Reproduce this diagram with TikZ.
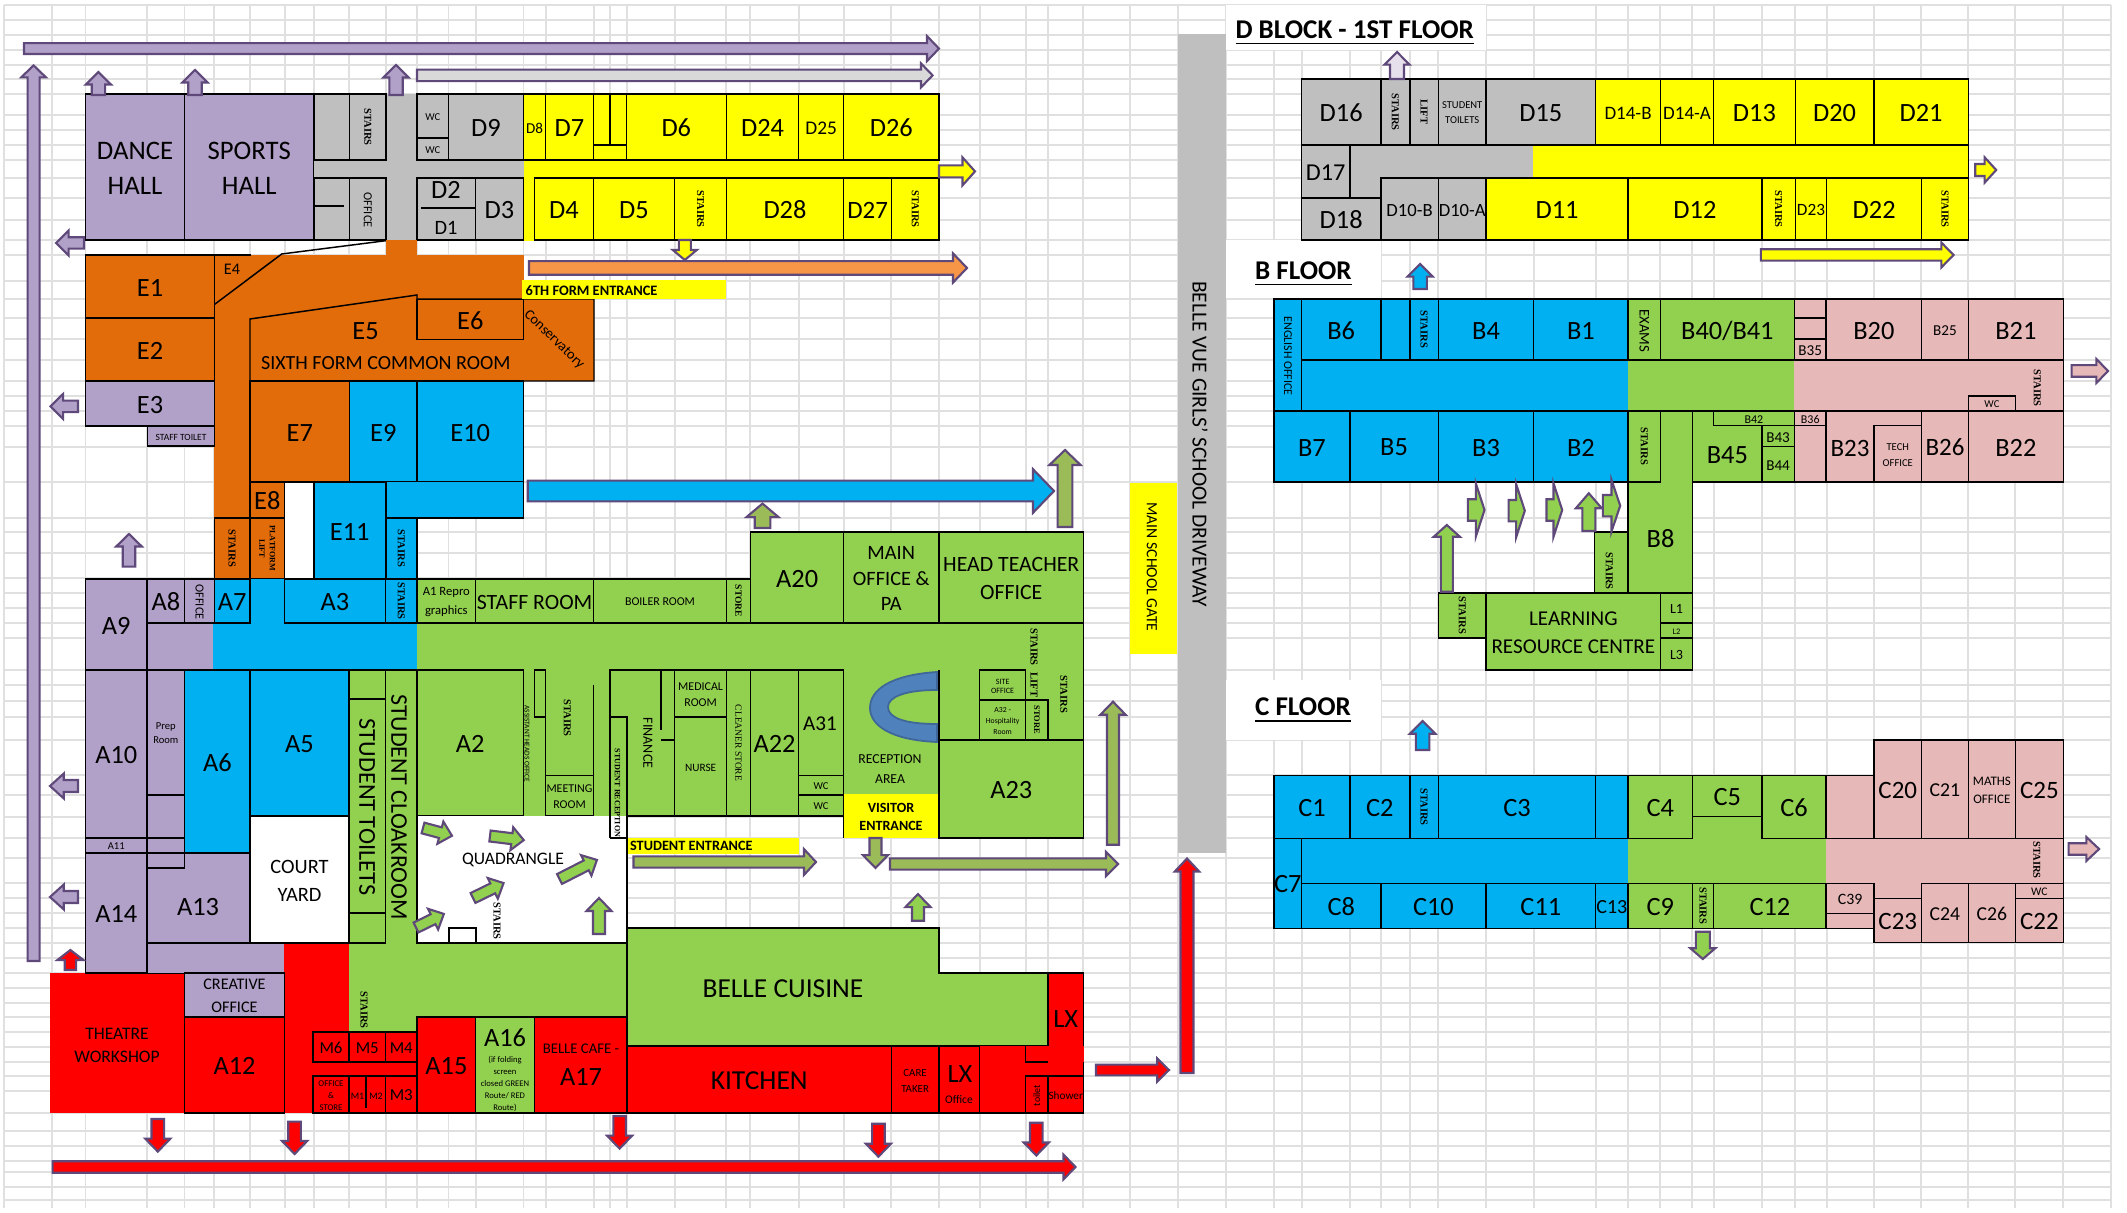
\documentclass[tikz,border=0pt]{standalone}
\usepackage{fontspec}
\setmainfont{Carlito}
\newfontfamily\stairfont{Liberation Serif}
\usepackage{tikz}

\definecolor{pur}{HTML}{B1A0C7}
\definecolor{purline}{HTML}{5F497A}
\definecolor{gry}{HTML}{BFBFBF}
\definecolor{ltgry}{HTML}{D9D9D9}
\definecolor{sheet}{HTML}{E0E0E0}
\definecolor{yel}{HTML}{FFFF00}
\definecolor{org}{HTML}{E26B0A}
\definecolor{ltorg}{HTML}{F79646}
\definecolor{blu}{HTML}{00B0F0}
\definecolor{grn}{HTML}{92D050}
\definecolor{olv}{HTML}{9BBB59}
\definecolor{pnk}{HTML}{E6B8B7}
\definecolor{rd}{HTML}{FF0000}
\definecolor{desk}{HTML}{4F81BD}
\definecolor{pale}{HTML}{E6E0EC}

\tikzset{
	gridline/.style={draw=sheet, line width=0.35pt},
	room/.style={draw=black, line width=0.42pt},
	wall/.style={draw=black, line width=0.42pt},
	arw/.style={draw=purline, line width=0.6pt, line join=miter},
	fs/.style n args={2}{inner sep=0pt, align=center, text=black, yshift=-0.3pt, font=\fontsize{#1}{#2}\selectfont},
	big/.style={fs={7.5}{10}},
	stairs/.style={inner sep=0pt, rotate=-90, font=\stairfont\bfseries\fontsize{3}{3.6}\selectfont},
	title/.style={inner sep=0pt, anchor=west, font=\bfseries\fontsize{7.7}{9}\selectfont},
}

% [label style]{colour}{corner}{corner}{label}
\newcommand{\room}[5][big]{\draw[room,fill=#2] (#3) rectangle (#4) node[midway,#1] {#5};}
% {colour}{x}{y}{angle}{length}{half shaft}{half head}{head length}
\newcommand{\barrow}[8]{\draw[arw,fill=#1,shift={(#2,#3)},rotate=#4] (0,-#6) -- ({#5-#8},-#6) -- ({#5-#8},-#7) -- (#5,0) -- ({#5-#8},#7) -- ({#5-#8},#6) -- (0,#6) -- cycle;}

\begin{document}
\begin{tikzpicture}[x=0.01cm,y=-0.01cm]
\useasboundingbox (0,0) rectangle (2127,1213);
\fill[white] (0,0) rectangle (2127,1213);

% sheet lines
\foreach \gx in {4,52,85.5,147,184.5,214,250,285,314,349,386,417,448.5,476,523.5,546,594,610,627,675,726,750,799,844,891,939,980,1026,1048,1083,1130,1178,1226,1274,1302,1350,1381,1410,1438,1486,1534,1596,1628,1660,1692,1714,1762,1795,1827,1874,1921,1968,2015,2063,2111}
	\draw[gridline] (\gx,5) -- (\gx,1208);
\foreach \gy in {5,20,35,50,65,79,94,115,130,145,160,178,198,220,240,255,281,299,318,339,360,381,396,411,426,447,482,518,532,553,578,593,608,623,638,670,685,701,717,740,775,795,817,838,858,883,898,913,928,943,958,973,988,1003,1017,1032,1047,1062,1076,1091,1113,1131,1146,1161,1172,1187,1200}
	\draw[gridline] (4,\gy) -- (2111,\gy);
\fill[white] (1226,5) rectangle (1486,50);
\fill[white] (1226,240) rectangle (1381,298);
\fill[white] (1226,680) rectangle (1381,740);
\fill[white] (285,482) rectangle (314,579);

% driveway and gate
\fill[gry] (1178,34) rectangle (1226,853);
\node[fs={6.1}{8},rotate=-90] (drive) at (1200,443) {BELLE VUE GIRLS' SCHOOL DRIVEWAY};
\fill[yel] (1130,483) rectangle (1177,654);
\node[fs={4.45}{6},rotate=-90] (gate) at (1152,566) {MAIN SCHOOL GATE};

% D block ground floor
\room[fs={7.6}{10}]{pur}{85.5,94}{184.5,240}{DANCE\\HALL}
\room[fs={7.6}{10}]{pur}{184.5,94}{314,240}{SPORTS\\HALL}
\fill[gry] (314,94) rectangle (523.5,240);
\fill[yel] (523.5,160) rectangle (939,178);
\fill[yel] (523.5,178) rectangle (534.6,241);
\draw[room,fill=gry] (314,94) rectangle (349.5,160);
\room[stairs]{gry}{349.5,94}{386,160}{STAIRS}
\room[fs={3}{4}]{gry}{417,94}{448.5,138}{WC}
\room[fs={3}{4}]{gry}{417,138}{448.5,160}{WC}
\room{gry}{448.5,94}{523.5,160}{D9}
\draw[room,fill=gry] (314,178) rectangle (349.5,240);
\draw[wall] (314,206) -- (344,206);
\room[fs={3.5}{4},rotate=-90]{gry}{349.5,178}{386,240}{OFFICE}
\draw[room,fill=gry] (417,178) rectangle (475.3,240);
\draw[wall] (421,208) -- (475.3,208);
\node[big] (dtwo) at (446,189) {D2};
\node[fs={5.8}{7}] (done) at (446,227) {D1};
\room{gry}{475.3,178}{523.5,240}{D3}
\room[fs={4.3}{5}]{yel}{523.5,94}{545.7,160}{D8}
\room{yel}{545.7,94}{593.3,160}{D7}
\draw[room,fill=yel] (593.3,94) rectangle (626.3,160);
\draw[wall] (610,94) -- (610,145) (593.3,145) -- (626.3,145);
\room{yel}{626.3,94}{726.3,160}{D6}
\room{yel}{726.3,94}{798.7,160}{D24}
\room[fs={5.5}{7}]{yel}{798.7,94}{843.7,160}{D25}
\room{yel}{843.7,94}{939,160}{D26}
\room{yel}{534.6,178}{593.3,240}{D4}
\room{yel}{593.3,178}{674.6,240}{D5}
\room[stairs]{yel}{674.6,178}{726.3,240}{STAIRS}
\room{yel}{726.3,178}{843.7,240}{D28}
\room[fs={7.1}{10}]{yel}{843.7,178}{891.5,240}{D27}
\room[stairs]{yel}{891.5,178}{939,240}{STAIRS}

% E block
\fill[org] (214.3,255) rectangle (523.5,299);
\fill[org] (385.8,240) rectangle (417,255);
\fill[org] (214.3,299) rectangle (250,518);
\fill[org] (250,295) rectangle (417,319);
\room{org}{85.7,255}{214.3,318}{E1}
\room{org}{85.7,318}{214.3,381}{E2}
\room{pur}{85.7,381}{214.3,426}{E3}
\room[fs={2.7}{3}]{pur}{147.7,426}{214.3,446}{STAFF TOILET}
\draw[wall] (214.3,255) -- (250.6,255);
\draw[wall] (214.3,304.6) -- (281.7,254) -- (385.8,240.7);
\node[fs={4.6}{6}] (efour) at (232,268.6) {E4};
\draw[wall,fill=org] (250,381) -- (250,319) -- (417,295) -- (417,299) -- (594,299) -- (594,381) -- cycle;
\room{org}{417,299.5}{523.5,339.5}{E6}
\node[big] (efive) at (365.5,330) {E5};
\node[fs={5.7}{7}] (sixth) at (385.8,362) {SIXTH FORM COMMON ROOM};
\node[fs={4.1}{5},rotate=-44] (conserv) at (554,338.6) {Conservatory};
\room{org}{250,381}{349.5,482}{E7}
\room{blu}{349.5,381}{417,482}{E9}
\room{blu}{417,381}{523.5,482}{E10}
\room{org}{250,482}{284.7,518}{E8}
\fill[blu] (385.8,482) rectangle (523.5,518);
\draw[wall] (385.8,518) -- (523.5,518) -- (523.5,482);
\room{blu}{313.8,482}{385.8,579}{E11}
\room[stairs]{blu}{385.8,518}{417,579}{STAIRS}
\room[stairs]{org}{214.3,518}{250,579}{STAIRS}
\room[stairs,font=\stairfont\bfseries\fontsize{2.3}{3}\selectfont,align=center]{org}{250,518}{284.7,579}{PLATFORM\\LIFT}
\fill[yel] (522,280) rectangle (726,299.3);
\node[inner sep=0pt,font=\bfseries\fontsize{4.1}{5}\selectfont,anchor=west] (sixthdoor) at (525,291) {6TH FORM ENTRANCE};

% A block corridors
\fill[pur] (147,623) rectangle (214,670);
\fill[blu] (213,623) rectangle (417,670);
\fill[blu] (250,579) rectangle (284.3,623);
\fill[grn] (417,623) rectangle (1083.7,816);
\fill[grn] (349,943) rectangle (627,1017);
\fill[grn] (349,1017) rectangle (417,1032);
\fill[rd] (284.3,943) rectangle (349,1113);
\fill[rd] (313,1062) rectangle (417,1076);
\fill[rd] (50,973) rectangle (184.7,1113);
\draw[wall] (85.5,973) -- (184.7,973);
\node[fs={5}{6.5}] (theatre) at (117,1044) {THEATRE\\WORKSHOP};

\room{pur}{85.5,579}{147,670}{A9}
\room{pur}{147,579}{184.7,623}{A8}
\room[fs={3.5}{4},rotate=-90]{pur}{184.7,579}{214.3,623}{OFFICE}
\room{blu}{214.3,579}{250,623}{A7}
\room{blu}{284.3,579}{385.5,623}{A3}
\room[stairs]{blu}{385.5,579}{417,623}{STAIRS}
\room[fs={3.6}{5.3}]{grn}{417,579}{475.7,623}{A1 Repro\\graphics}
\room[fs={6.2}{8}]{grn}{475.7,579}{593.5,623}{STAFF ROOM}
\room[fs={3.4}{4}]{grn}{593.5,579}{726.5,623}{BOILER ROOM}
\room[stairs,font=\stairfont\bfseries\fontsize{2.7}{3}\selectfont]{grn}{726.5,579}{750.6,623}{STORE}
\room{grn}{750.6,532}{843.7,623}{A20}
\room[fs={5.8}{7.3}]{grn}{843.7,532}{938.8,623}{MAIN\\OFFICE \&\\PA}
\room[fs={6.2}{7.9}]{grn}{938.8,532}{1083.7,623}{HEAD TEACHER\\OFFICE}

\room{pur}{85.5,670}{147,838}{A10}
\room[fs={3}{4}]{pur}{147,670}{184.7,795}{Prep\\Room}
\draw[room,fill=pur] (147,795) rectangle (184.7,838);
\room[fs={3}{3.5}]{pur}{85.5,838}{147,853}{A11}
\draw[room,fill=pur] (147,838) rectangle (184.7,853);
\room{pur}{85.5,853}{147,973}{A14}
\fill[pur] (147,853) rectangle (250,973);
\fill[pur] (250,943) rectangle (284.3,973);
\draw[wall] (147,853) rectangle (184.7,868);
\draw[wall] (147,868) -- (147,973) (184.7,853) -- (250,853) -- (250,943) -- (147,943);
\node[big] (athirteen) at (198,906) {A13};
\room{blu}{184.7,670}{250,853}{A6}
\room{blu}{250,670}{349,816}{A5}
\room[fs={5.8}{7.9}]{white}{250,816}{349,943}{COURT\\YARD}
\draw[room,fill=grn] (349,670) rectangle (385.5,699);
\room[fs={6.9}{8},rotate=-90]{grn}{349,699}{385.5,913}{STUDENT TOILETS}
\draw[room,fill=grn] (349,913) rectangle (385.5,943);
\fill[grn] (385.5,670) rectangle (417,943);
\draw[wall] (385.5,670) -- (417,670);
\node[fs={6.8}{8},rotate=-90] (cloak) at (399,806) {STUDENT CLOAKROOM};
\room{grn}{417,670}{523.5,816}{A2}
\draw[wall] (523.5,670) -- (523.5,816) (545.7,717) -- (545.7,816) (534.6,670) rectangle (545.7,717);
\node[fs={2.1}{3},rotate=-90] (asst) at (527,743) {ASSISTANT HEADS OFFICE};
\draw[wall] (593.5,684.6) -- (593.5,775.6);
\node[stairs] (astairs) at (567.3,718) {STAIRS};
\room[fs={3.4}{4.6}]{grn}{545.7,775.6}{593.3,816}{MEETING\\ROOM}

% quadrangle
\fill[white] (417,816) rectangle (627,943);
\draw[wall] (417,816) -- (417,943) -- (627,943);
\draw[room,fill=white] (449,928) rectangle (476,943);
\node[fs={5}{6}] (quad) at (513,859) {QUADRANGLE};
\node[stairs] (qstairs) at (497,921) {STAIRS};
\barrow{grn}{423}{828}{-15}{30}{5.5}{11.5}{12}
\barrow{grn}{490}{836}{-7}{34}{5.5}{11.5}{12}
\barrow{grn}{559.5}{879}{27}{42}{5.5}{11.5}{12}
\barrow{grn}{473}{898}{26}{34}{5.5}{11.5}{12}
\barrow{grn}{416}{927.5}{26}{31}{5.5}{11.5}{12}
\barrow{grn}{599}{934}{90}{36}{6}{12.5}{13}

% offices along the middle
\draw[wall] (610,838) -- (610,670) -- (843.7,670) (627,838) -- (627,717) -- (610,717) (610,838) -- (627,838);
\draw[wall] (627,816) -- (843.7,816) (661,670) -- (661,730) (661,740) -- (674.7,740);
\node[stairs,font=\stairfont\bfseries\fontsize{2.3}{3}\selectfont] (srecep) at (617.6,793) {STUDENT RECEPTION};
\node[fs={4}{5},rotate=-90] (finance) at (648,742) {FINANCE};
\room[fs={3.4}{4.6}]{grn}{674.7,670}{726.5,717}{MEDICAL\\ROOM}
\room[fs={3.2}{4}]{grn}{674.7,717}{726.5,816}{NURSE}
\room[rotate=-90,inner sep=0pt,font=\stairfont\fontsize{2.7}{3}\selectfont]{grn}{726.5,670}{750.6,816}{CLEANER STORE}
\room{grn}{750.6,670}{798.4,816}{A22}
\draw[room,fill=grn] (798.4,670) rectangle (843.7,775.6);
\node[fs={6}{7}] (athirtyone) at (820,723) {A31};
\room[fs={3}{4}]{grn}{798.4,775.6}{843.7,795}{WC}
\room[fs={3}{4}]{grn}{798.4,795}{843.7,816}{WC}
\draw[wall] (938.8,670) -- (938.8,740);
\draw[draw=desk!80!black,line width=0.5pt,fill=desk] (937,672) .. controls (890,675) and (870,690) .. (870,708) .. controls (870,725) and (890,740) .. (937,742) -- (937,724) .. controls (905,724) and (888,718) .. (888,707) .. controls (888,697) and (905,690) .. (937,690) -- cycle;
\node[fs={3.9}{5.8}] (recep) at (890,768) {RECEPTION\\AREA};
\fill[yel] (843.7,794) rectangle (938.8,838);
\node[font=\bfseries\fontsize{4}{5.1}\selectfont,inner sep=0pt,align=center] (visitor) at (891,817) {VISITOR\\ENTRANCE};
\draw[wall] (843.7,816) -- (843.7,838) (1083.7,623) -- (1083.7,740);
\room[fs={2.3}{2.5}]{grn}{979.6,670}{1025.7,700}{SITE\\OFFICE}
\room[fs={2.2}{3.2}]{grn}{979.6,700}{1025.7,740}{A32 -\\Hospitality\\Room}
\room[stairs,font=\stairfont\bfseries\fontsize{2.4}{3}\selectfont]{grn}{1025.7,700}{1047.8,740}{STORE}
\node[stairs] (lstairs) at (1034,647) {STAIRS};
\node[stairs] (lift) at (1034,685) {LIFT};
\node[stairs] (rstairs) at (1063.7,694.5) {STAIRS};
\room{grn}{938.8,740}{1083.7,838}{A23}
\fill[yel] (627,838) rectangle (798.8,853.7);
\node[font=\bfseries\fontsize{4.05}{5}\selectfont,inner sep=0pt,anchor=west] (sdoor) at (629.4,846) {STUDENT ENTRANCE};

% bottom row
\room[fs={4.6}{6.4}]{pur}{184.7,973}{284.3,1017}{CREATIVE\\OFFICE}
\room{rd}{184.7,1017}{284.3,1113}{A12}
\room[fs={4.8}{6}]{rd}{313,1032}{349,1062}{M6}
\room[fs={4.8}{6}]{rd}{349,1032}{385.5,1062}{M5}
\room[fs={4.8}{6}]{rd}{385.5,1032}{417,1062}{M4}
\room[fs={2.5}{3.5}]{rd}{313,1076}{349,1113}{OFFICE\\\&\\STORE}
\draw[room,fill=rd] (349,1076) rectangle (385.5,1113);
\draw[wall] (366,1076) -- (366,1108);
\node[fs={2.8}{3}] (mone) at (357.5,1095) {M1};
\node[fs={2.8}{3}] (mtwo) at (376,1095) {M2};
\room[fs={4.8}{6}]{rd}{385.5,1076}{417,1113}{M3}
\room{rd}{417,1017}{475.7,1113}{A15}
\draw[room,fill=grn] (475.7,1017) rectangle (534.6,1113);
\node[big] (asixteen) at (505,1037) {A16};
\node[fs={2.45}{3.4}] (folding) at (505,1083) {(if folding\\screen\\closed GREEN\\Route/ RED\\Route)};
\draw[room,fill=rd] (534.6,1017) rectangle (627,1113);
\node[fs={4.2}{5}] (cafe) at (581,1048) {BELLE CAFE -};
\node[big] (aseventeen) at (581,1076) {A17};
\draw[wall] (417,1017) -- (627,1017);
\draw[wall,fill=grn] (627,928) -- (938.8,928) -- (938.8,973) -- (1047.8,973) -- (1047.8,1046) -- (627,1046) -- cycle;
\node[fs={7.8}{9}] (cuisine) at (783,988) {BELLE CUISINE};
\draw[wall] (627,928) -- (627,838);
\room{rd}{1047.8,973}{1083.7,1062}{LX}
\room[fs={7.8}{9}]{rd}{627,1046}{891.4,1113}{KITCHEN}
\room[fs={3.1}{4.6}]{rd}{891.4,1046}{938.8,1113}{CARE\\TAKER}
\draw[room,fill=rd] (938.8,1046) rectangle (979.6,1113);
\node[big] (lxoff) at (960,1073) {LX};
\node[fs={3.3}{4}] (lxoffice) at (959,1098) {Office};
\fill[rd] (979.6,1046) rectangle (1083.7,1113);
\draw[wall] (979.6,1113) -- (1083.7,1113) -- (1083.7,1062) (1025.7,1046) -- (1025.7,1062) -- (1047.8,1062);
\room[fs={2.8}{3},rotate=90]{rd}{1025.7,1076}{1047.8,1113}{toilet}
\room[fs={3.2}{4}]{rd}{1047.8,1076}{1083.7,1113}{Shower}
\node[stairs] (bstairs) at (364,1010) {STAIRS};

% D block first floor
\node[title] (dhead) at (1234.8,33) {\underline{D BLOCK - 1ST FLOOR}};
\fill[gry] (1301.6,145) rectangle (1532.7,198);
\fill[yel] (1532.7,145) rectangle (1968.3,178);
\room{gry}{1301.6,79}{1380.8,145}{D16}
\room[stairs]{gry}{1380.8,79}{1409.8,145}{STAIRS}
\room[stairs]{gry}{1409.8,79}{1438.3,145}{LIFT}
\room[fs={3}{4.3}]{gry}{1438.3,79}{1486.1,145}{STUDENT\\TOILETS}
\room{gry}{1486.1,79}{1595.6,145}{D15}
\room[fs={5.4}{7}]{yel}{1595.6,79}{1660.5,145}{D14-B}
\room[fs={5.4}{7}]{yel}{1660.5,79}{1713.6,145}{D14-A}
\room{yel}{1713.6,79}{1795.3,145}{D13}
\room{yel}{1795.3,79}{1873.9,145}{D20}
\room{yel}{1873.9,79}{1968.3,145}{D21}
\room[fs={6.9}{10}]{gry}{1301.6,145}{1349.8,198}{D17}
\room{gry}{1301.6,198}{1380.8,240}{D18}
\room[fs={5.3}{7}]{gry}{1380.8,178}{1438.3,240}{D10-B}
\room[fs={5.3}{7}]{gry}{1438.3,178}{1486.1,240}{D10-A}
\room{yel}{1486.1,178}{1628.1,240}{D11}
\room{yel}{1628.1,178}{1761.8,240}{D12}
\room[stairs]{yel}{1761.8,178}{1795.3,240}{STAIRS}
\room[fs={4.9}{6}]{yel}{1795.3,178}{1826.7,240}{D23}
\room{yel}{1826.7,178}{1921.6,240}{D22}
\room[stairs]{yel}{1921.6,178}{1968.3,240}{STAIRS}
\draw[wall] (1968.3,145) -- (1968.3,178);

% B floor
\node[title] (bhead) at (1254.4,274) {\underline{B FLOOR}};
\fill[blu] (1301.6,360) rectangle (1628.1,411);
\fill[grn] (1628.1,360) rectangle (1794.3,411);
\fill[pnk] (1794.3,360) rectangle (2063.3,411);
\room[fs={3.4}{4},rotate=-90]{blu}{1274.1,299}{1301.6,411}{ENGLISH OFFICE}
\room{blu}{1301.6,299}{1380.8,360}{B6}
\draw[room,fill=blu] (1380.8,299) rectangle (1409.8,360);
\room[stairs]{blu}{1409.8,299}{1438.3,360}{STAIRS}
\room{blu}{1438.3,299}{1533.7,360}{B4}
\room{blu}{1533.7,299}{1628.1,360}{B1}
\room[fs={4.2}{5},rotate=-90]{grn}{1628.1,299}{1660.5,360}{EXAMS}
\room{grn}{1660.5,299}{1794.3,360}{B40/B41}
\draw[room,fill=pnk] (1794.3,299) rectangle (1826.2,318);
\draw[room,fill=pnk] (1794.3,318) rectangle (1826.2,339);
\room[fs={4.3}{5}]{pnk}{1794.3,339}{1826.2,360}{B35}
\room{pnk}{1826.2,299}{1921.6,360}{B20}
\room[fs={4.3}{5}]{pnk}{1921.6,299}{1968.3,360}{B25}
\room{pnk}{1968.3,299}{2063.3,360}{B21}
\room[fs={3}{4}]{pnk}{1968.3,396}{2015.5,411}{WC}
\node[stairs] (bfstairs) at (2037.2,388) {STAIRS};
\draw[wall] (2063.3,360) -- (2063.3,411);
\room{blu}{1274.1,411}{1349.8,482}{B7}
\room{blu}{1349.8,411}{1438.3,482}{B5}
\room{blu}{1438.3,411}{1533.7,482}{B3}
\room{blu}{1533.7,411}{1628.1,482}{B2}
\room[stairs]{grn}{1628.1,411}{1660.5,482}{STAIRS}
\draw[wall,fill=grn] (1660.5,411) -- (1660.5,482) -- (1628.1,482) -- (1628.1,593) -- (1692.6,593) -- (1692.6,411) -- cycle;
\node[big] (beight) at (1660.5,538) {B8};
\draw[room,fill=grn] (1692.6,411) rectangle (1761.8,482);
\node[big] (bfortyfive) at (1727.4,454) {B45};
\room[fs={3.4}{4}]{grn}{1713.6,411}{1794.3,425.7}{B42}
\room[fs={4.3}{5}]{grn}{1761.8,425.7}{1794.3,446.7}{B43}
\room[fs={4.3}{5}]{grn}{1761.8,446.7}{1794.3,482}{B44}
\room[fs={3.4}{4}]{pnk}{1794.3,411}{1826.2,425.7}{B36}
\draw[room,fill=pnk] (1794.3,425.7) rectangle (1826.2,482);
\draw[room,fill=pnk] (1826.2,411) rectangle (1921.6,482);
\node[fs={7.1}{10}] (btwentythree) at (1850,447) {B23};
\room[fs={3}{4.6}]{pnk}{1873.9,425.7}{1921.6,482}{TECH\\OFFICE}
\room[fs={7.1}{10}]{pnk}{1921.6,411}{1968.3,482}{B26}
\room{pnk}{1968.3,411}{2063.3,482}{B22}
\draw[room,fill=grn] (1594.7,532) rectangle (1628.1,593);
\node[stairs] (lrstairs) at (1609.4,571) {STAIRS};
\room[fs={6}{8}]{grn}{1486.1,593}{1660.5,670}{LEARNING\\RESOURCE CENTRE}
\room[stairs]{grn}{1438.3,593}{1486.1,638}{STAIRS}
\room[fs={4}{5}]{grn}{1660.5,593}{1692.6,623}{L1}
\room[fs={2.4}{3}]{grn}{1660.5,623}{1692.6,638}{L2}
\room[fs={4}{5}]{grn}{1660.5,638}{1692.6,670}{L3}

% C floor
\node[title] (chead) at (1254.4,710.7) {\underline{C FLOOR}};
\fill[blu] (1301.6,838) rectangle (1628.1,883.3);
\fill[grn] (1628.1,838) rectangle (1826.2,883.3);
\fill[pnk] (1826.2,838) rectangle (2063.3,883.3);
\fill[pnk] (1873.9,883) rectangle (1921.6,899);
\fill[grn] (1692.6,816) rectangle (1761.8,839);
\draw[wall] (1692.6,816.7) -- (1692.6,838.3) (1761.8,816.7) -- (1761.8,838.3) (2063.3,838) -- (2063.3,883);
\room{blu}{1274.1,775.7}{1349.8,838.3}{C1}
\room{blu}{1349.8,775.7}{1409.8,838.3}{C2}
\room[stairs]{blu}{1409.8,775.7}{1438.3,838.3}{STAIRS}
\room{blu}{1438.3,775.7}{1595.6,838.3}{C3}
\draw[room,fill=blu] (1595.6,775.7) rectangle (1628.1,838.3);
\room{grn}{1628.1,775.7}{1692.6,838.3}{C4}
\room{grn}{1692.6,775.7}{1761.8,816.7}{C5}
\room{grn}{1761.8,775.7}{1826.2,838.3}{C6}
\draw[room,fill=pnk] (1826.2,775.7) rectangle (1873.9,838.3);
\room[fs={7.1}{10}]{pnk}{1873.9,740}{1921.6,838.3}{C20}
\room[fs={5.6}{7}]{pnk}{1921.6,740}{1968.3,838.3}{C21}
\room[fs={3.7}{5.3}]{pnk}{1968.3,740}{2015.5,838.3}{MATHS\\OFFICE}
\room[fs={7.1}{10}]{pnk}{2015.5,740}{2063.3,838.3}{C25}
\room{blu}{1274.1,838.3}{1301.6,928.3}{C7}
\room{blu}{1301.6,883.3}{1380.8,928.3}{C8}
\room{blu}{1380.8,883.3}{1486.1,928.3}{C10}
\room{blu}{1486.1,883.3}{1595.6,928.3}{C11}
\room[fs={5.7}{7}]{blu}{1595.6,883.3}{1628.1,928.3}{C13}
\room{grn}{1628.1,883.3}{1692.6,928.3}{C9}
\room[stairs]{grn}{1692.6,883.3}{1713.6,928.3}{STAIRS}
\room{grn}{1713.6,883.3}{1826.2,928.3}{C12}
\room[fs={4.5}{5}]{pnk}{1826.2,883.3}{1873.9,913.3}{C39}
\draw[room,fill=pnk] (1826.2,913.3) rectangle (1873.9,928.3);
\room[fs={7.1}{10}]{pnk}{1873.9,898.3}{1921.6,942.7}{C23}
\room[fs={5.6}{7}]{pnk}{1921.6,883.3}{1968.3,942.7}{C24}
\room[fs={5.6}{7}]{pnk}{1968.3,883.3}{2015.5,942.7}{C26}
\room[fs={3.3}{4}]{pnk}{2015.5,883.3}{2063.3,898.3}{WC}
\room[fs={7.1}{10}]{pnk}{2015.5,898.3}{2063.3,942.7}{C22}
\node[stairs] (cfstairs) at (2036.8,860) {STAIRS};

% route arrows
\barrow{pur}{24}{48.6}{0}{915}{5.4}{12.5}{12}
\barrow{pur}{33.6}{961}{90}{895.6}{6}{12.4}{12}
\barrow{pur}{98.4}{95}{90}{23}{6.7}{12.6}{12.5}
\barrow{pur}{195}{95}{90}{25}{6.7}{12.6}{12.5}
\barrow{pur}{396}{95}{90}{30}{6.7}{12.6}{12.5}
\barrow{ltgry}{417}{75.4}{0}{515.6}{5.7}{12}{11.6}
\barrow{pur}{84}{243}{180}{28}{5.7}{12.5}{12.6}
\barrow{pur}{78}{406.4}{180}{27.5}{5.7}{12.5}{12.6}
\barrow{yel}{939}{171.4}{0}{36}{6}{14}{12.5}
\barrow{yel}{684.8}{240}{270}{20}{6}{12}{10}
\barrow{ltorg}{529}{268}{0}{438}{6.8}{14.6}{14}
\barrow{blu}{527.7}{491}{0}{526.3}{10.4}{21.8}{21}
\barrow{olv}{1065}{527}{90}{77}{7.4}{15.6}{15}
\barrow{olv}{762.5}{528}{90}{24.4}{7.8}{16}{13.5}
\barrow{pur}{129}{566.6}{90}{32.6}{6.3}{12.8}{12.5}
\barrow{pur}{78}{786}{180}{28}{6}{12.5}{13.8}
\barrow{pur}{78}{897}{180}{28}{6}{12.5}{13.8}
\barrow{rd}{70.4}{970}{90}{20}{5.7}{13}{10}
\barrow{rd}{157.8}{1119}{270}{32.6}{6.3}{12.6}{13}
\barrow{rd}{294.6}{1121.6}{270}{32.4}{6.3}{12.6}{13}
\barrow{rd}{619.6}{1116}{270}{32.6}{6.3}{12.6}{13}
\barrow{rd}{878.4}{1123.7}{270}{33}{6.3}{12.6}{13}
\barrow{rd}{1036.3}{1122.8}{270}{32.7}{6.3}{12.6}{13}
\barrow{rd}{52.6}{1167}{0}{1022.9}{5.8}{12.4}{12}
\barrow{rd}{1096}{1070}{0}{73}{5.4}{11.6}{11.8}
\barrow{rd}{1187}{1073}{90}{214.5}{6.5}{12.2}{13}
\barrow{olv}{633.5}{862}{0}{182.5}{5.6}{12.9}{12}
\barrow{olv}{875.5}{838}{270}{30}{6}{12.6}{12.9}
\barrow{olv}{890}{864}{0}{228}{5.6}{12}{12}
\barrow{olv}{1113}{844.7}{90}{143}{6}{12.6}{13}
\barrow{grn}{918}{920.7}{90}{26.6}{6}{12.6}{13}
\barrow{pale}{1397}{79}{90}{27}{7}{12.6}{12.7}
\barrow{yel}{1975.2}{170}{0}{21}{6}{12.7}{11.6}
\barrow{yel}{1760.8}{255}{0}{192.7}{5.7}{12.5}{12.2}
\barrow{blu}{1420.1}{289}{90}{25}{6.8}{12.6}{12.7}
\barrow{grn}{1467.8}{510}{0}{16.7}{10.7}{26.7}{8.7}
\barrow{grn}{1508.6}{510.7}{0}{16.2}{10.7}{26.7}{8.7}
\barrow{grn}{1546.5}{510}{0}{15.7}{10.7}{26.7}{8.7}
\barrow{grn}{1602.9}{505.7}{0}{17.3}{10.7}{25.8}{8.7}
\barrow{grn}{1588.8}{531}{90}{37.7}{6.5}{13}{15}
\barrow{grn}{1446.8}{591.7}{90}{66.7}{6}{13}{11.7}
\barrow{pnk}{2071.6}{371}{0}{36.4}{5.8}{12}{11.6}
\barrow{blu}{1422.6}{750}{90}{29}{6.8}{12.6}{12.7}
\barrow{pnk}{2068.6}{849}{0}{30.5}{5.8}{12}{12.8}
\barrow{grn}{1702.8}{931.7}{270}{27.3}{7}{12.4}{10.7}
\end{tikzpicture}
\end{document}
